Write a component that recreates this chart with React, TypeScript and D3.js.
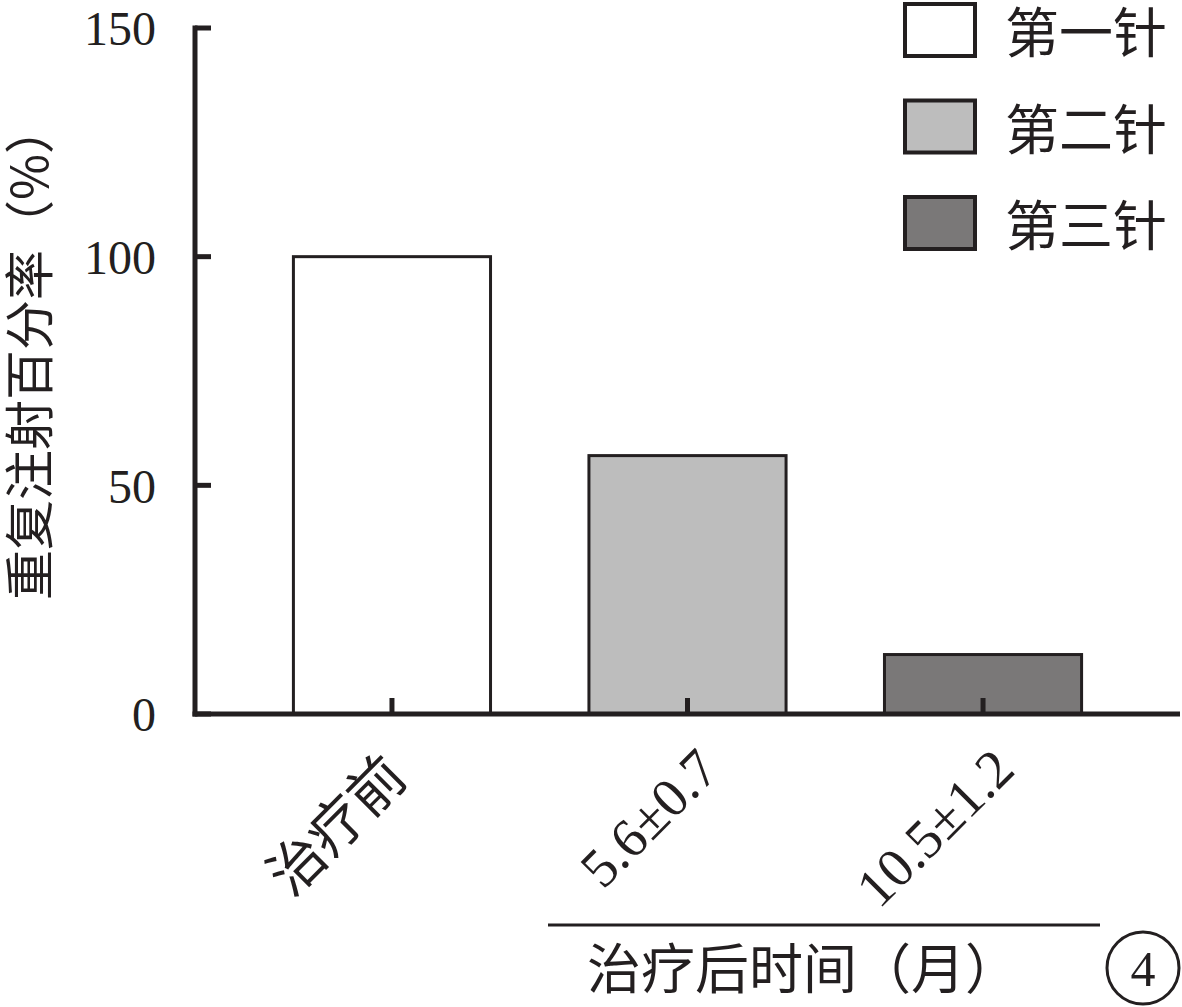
import React from "react";
import * as d3 from "d3";

const categories = ["治疗前", "5.6±0.7", "10.5±1.2"];
const values = [100, 56.5, 13];
const series = ["第一针", "第二针", "第三针"];
const fills = ["#ffffff", "#bdbdbd", "#7a7878"];
const yTicks = [0, 50, 100, 150];

const W = 1182;
const H = 1007;
const left = 195;
const right = 1180;
const top = 28;
const bottom = 714;

const serif = "'Liberation Serif', 'Times New Roman', serif";
const cjk = "'Noto Sans CJK SC', sans-serif";
const ink = "#231f20";

export default function App() {
  const y = d3.scaleLinear().domain([0, 150]).range([bottom, top]);
  const x = d3
    .scaleBand<string>()
    .domain(categories)
    .range([left, right])
    .paddingInner(0.333)
    .paddingOuter(0.333);

  return (
    <svg width={W} height={H} style={{ position: "absolute", left: 0, top: 0, background: "#fff" }}>
      {/* bars */}
      {categories.map((c, i) => {
        const cx = (x(c) as number) + x.bandwidth() / 2;
        const isCjk = i === 0;
        return (
          <g key={c}>
            <rect
              x={x(c)}
              y={y(values[i])}
              width={x.bandwidth()}
              height={y(0) - y(values[i])}
              fill={fills[i]}
              stroke={ink}
              strokeWidth={3}
            />
            <line x1={cx} x2={cx} y1={bottom} y2={bottom - 16} stroke={ink} strokeWidth={5} />
            <text
              transform={`translate(${cx + (isCjk ? 18 : 34)},${bottom + (isCjk ? 66 : 58)}) rotate(-45)`}
              textAnchor="end"
              fontFamily={isCjk ? cjk : serif}
              fontSize={isCjk ? 56 : 55}
              fill={ink}
            >
              {c}
            </text>
          </g>
        );
      })}

      {/* y axis */}
      <line x1={left} x2={left} y1={top - 2.5} y2={bottom + 2.5} stroke={ink} strokeWidth={5} />
      {yTicks.map((t) => (
        <g key={t}>
          <line x1={left} x2={left + 16} y1={y(t)} y2={y(t)} stroke={ink} strokeWidth={5} />
          <text x={156} y={y(t)} dy="0.36em" textAnchor="end" fontFamily={serif} fontSize={48} fill={ink}>
            {t}
          </text>
        </g>
      ))}
      {/* x axis */}
      <line x1={left - 2.5} x2={right} y1={bottom} y2={bottom} stroke={ink} strokeWidth={5} />

      {/* y label */}
      <text
        transform={`translate(48,352) rotate(-90)`}
        textAnchor="middle"
        fontFamily={cjk}
        fontSize={50}
        fill={ink}
      >
        重复注射百分率（%）
      </text>

      {/* legend */}
      {series.map((s, i) => (
        <g key={s} transform={`translate(905,${4 + i * 96.5})`}>
          <rect x={0} y={0} width={70} height={52} fill={fills[i]} stroke={ink} strokeWidth={4} />
          <text x={100} y={30} dy="0.36em" fontFamily={cjk} fontSize={54} fill={ink}>
            {s}
          </text>
        </g>
      ))}

      {/* x group label */}
      <line x1={548} x2={1100} y1={925} y2={925} stroke={ink} strokeWidth={3} />
      <text x={803} y={970} dy="0.36em" textAnchor="middle" fontFamily={cjk} fontSize={54} fill={ink}>
        治疗后时间（月）
      </text>
      <circle cx={1143} cy={968} r={36} fill="none" stroke={ink} strokeWidth={3} />
      <text x={1143} y={968} dy="0.36em" textAnchor="middle" fontFamily={serif} fontSize={50} fill={ink}>
        4
      </text>
    </svg>
  );
}
